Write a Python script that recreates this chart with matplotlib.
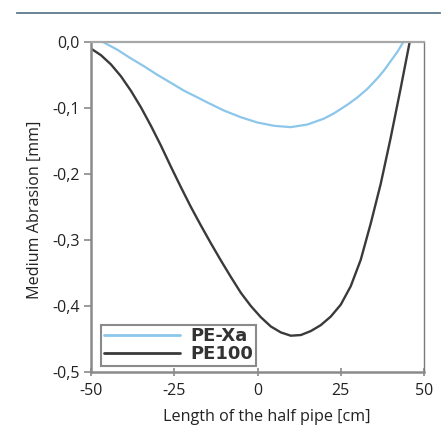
import matplotlib
matplotlib.use("Agg")
import matplotlib.pyplot as plt
from matplotlib.lines import Line2D

# ---- data ----
pe100_x = [-50, -47, -44, -41, -38, -35, -32, -29, -26, -23, -20, -17, -14, -11, -8,
           -5, -2, 1, 4, 7, 10, 13, 16, 19, 22, 25, 28, 31, 34, 37, 40, 43, 45.7]
pe100_y = [-0.010, -0.020, -0.034, -0.052, -0.074, -0.099, -0.127, -0.157, -0.189,
           -0.220, -0.250, -0.278, -0.305, -0.331, -0.356, -0.380, -0.400, -0.417,
           -0.431, -0.440, -0.445, -0.444, -0.438, -0.429, -0.416, -0.398, -0.370,
           -0.330, -0.275, -0.215, -0.145, -0.070, 0.0]

pexa_x = [-46.4, -42, -38.3, -34, -30, -26.3, -22, -18, -14.9, -10, -5, 0, 5, 10,
          15, 20, 23, 27, 30, 33, 36, 38, 40, 42, 43.8]
pexa_y = [0.0, -0.012, -0.024, -0.037, -0.050, -0.061, -0.074, -0.084, -0.092,
          -0.104, -0.114, -0.122, -0.127, -0.129, -0.125, -0.116, -0.108, -0.095,
          -0.084, -0.071, -0.055, -0.043, -0.029, -0.015, 0.0]

x_ticks = [-50, -25, 0, 25, 50]
x_tick_labels = ["-50", "-25", "0", "25", "50"]
y_ticks = [0.0, -0.1, -0.2, -0.3, -0.4, -0.5]
y_tick_labels = ["0,0", "-0,1", "-0,2", "-0,3", "-0,4", "-0,5"]
series_names = ["PE-Xa", "PE100"]

plt.rcParams['font.family'] = ['Open Sans', 'DejaVu Sans']

W, H = 447, 428
fig = plt.figure(figsize=(W / 100, H / 100), dpi=100)
ax = fig.add_axes([91 / W, 1 - 372 / H, 333 / W, 330 / H])

light = '#8cc6ea'
dark = '#3a3a3a'
ax.plot(pexa_x, pexa_y, color=light, lw=1.6, label=series_names[0], solid_capstyle='round')
ax.plot(pe100_x, pe100_y, color=dark, lw=1.7, label=series_names[1], solid_capstyle='round')

ax.set_xlim(-50, 50)
ax.set_ylim(-0.5, 0.0)
ax.set_xticks(x_ticks)
ax.set_xticklabels(x_tick_labels)
ax.set_yticks(y_ticks)
ax.set_yticklabels(y_tick_labels)

for s in ['left', 'bottom']:
    ax.spines[s].set_color('#8a8a8a')
    ax.spines[s].set_linewidth(1.8)
ax.spines['top'].set_color('#a8a8a8')
ax.spines['top'].set_linewidth(1.6)
ax.spines['right'].set_color('#7a7a7a')
ax.spines['right'].set_linewidth(1.0)

ax.tick_params(axis='x', direction='inout', length=6, width=1.2, color='#8a8a8a',
               labelsize=11.5, pad=5, labelcolor='#222222')
ax.tick_params(axis='y', direction='out', length=5, width=1.2, color='#8a8a8a',
               labelsize=11.5, pad=3, labelcolor='#222222')

fig.text(267 / W, 1 - 417 / H, "Length of the half pipe [cm]", ha='center', va='center',
         fontsize=11.6, color='#222222')
fig.text(35 / W, 1 - 210 / H, "Medium Abrasion [mm]", ha='center', va='center',
         rotation=90, fontsize=11.6, color='#222222')

leg = ax.legend(loc='lower left', bbox_to_anchor=(0.03, 0.018), borderaxespad=0,
                fancybox=False, framealpha=1, edgecolor='#8a8a8a',
                prop={'family': 'DejaVu Sans', 'weight': 'bold', 'size': 13},
                handlelength=4.2, handletextpad=0.6, labelspacing=0.0,
                borderpad=0.15)
leg.get_frame().set_linewidth(1.5)
for t in leg.get_texts():
    t.set_color('#333333')
for ln in leg.get_lines():
    ln.set_linewidth(2.0)

fig.add_artist(Line2D([17 / W, 440 / W], [1 - 13 / H, 1 - 13 / H], color='#5e7b8c', lw=1.3))

fig.savefig('out.png', dpi=100)
